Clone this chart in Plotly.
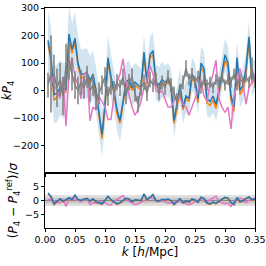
import plotly.graph_objects as go

k = [round(0.005 * i, 3) for i in range(1, 71)]

blue = [182,120,-15,-10,10, 0,5,205,150,190, 100,60,60,65,35, 60,0,-80,-160,-50,
        120,50,0,-70,-110, -40,30,40,10,30, 20,10,140,30,130, 145,30,20,40,30,
        40,20,-110,-50,20, -60,-20,-30,60,40, -30,100,80,-30,-40, -20,-50,0,60,130,
        100,-20,-60,120,0, 20,80,195,40,60]
orange = [170,105,-35,-25,0, -10,-5,190,135,175, 90,45,50,55,25, 45,-10,-95,-175,-65,
          105,40,-10,-85,-120, -50,20,30,0,20, 10,0,125,20,120, 130,20,10,30,20,
          30,10,-120,-65,5, -70,-30,-40,45,30, -45,85,65,-45,-55, -35,-65,-15,45,110,
          85,-35,-75,100,-15, 5,60,175,25,45]
band = [110,110,105,105,100, 100,100,100,95,95, 95,90,90,90,90, 85,85,85,80,80,
        80,80,75,75,75, 75,70,70,70,70, 70,70,65,65,65, 65,65,65,65,60,
        60,60,60,60,60, 60,60,60,60,60, 60,60,60,60,60, 60,60,60,60,60,
        60,60,60,60,60, 60,60,60,60,60]
pink = [30,60,20,0,-30, 50,-130,60,120,50, 20,-30,60,70,-110, -60,-70,-20,-40,-60,
        -105,-105,-20,30,60, 115,30,-20,-60,-90, -70,-40,10,40,90, 60,0,-10,0,-30,
        -60,-60,-40,-20,-30, -50,-60,-90,-60,-30, 0,40,-20,-40,20, 60,110,-30,-60,-80,
        -60,-140,-20,20,80, 30,-50,10,30,60]
gray = [20,60,60,10,40, -20,90,110,60,20, 0,30,10,50,0, 20,-30,-10,20,50,
        -20,20,0,30,10, 50,-20,30,50,-10, -50,10,30,-10,40, 20,40,-10,30,10,
        50,20,-10,-40,0, 30,80,40,60,30, 50,10,40,20,30, 10,40,30,50,20,
        40,30,60,20,40, 30,50,30,80,30]
gray_err = [45,140,70,70,60, 70,80,70,60,50, 50,45,40,40,40, 40,40,40,35,35,
            35,35,35,30,30, 30,30,30,30,30, 30,28,28,28,28, 25,25,25,25,25,
            25,25,25,30,25, 25,30,22,22,22, 22,22,22,20,20, 20,20,20,20,20,
            20,20,20,20,20, 20,20,20,40,20]

res_blue = [2.7,1.5,-1.3,-0.4,0.6, -0.3,0.2,1.0,0.3,2.0, 0.4,0.0,0.5,0.8,-0.2, 0.6,-0.5,-1.0,-1.2,0.1,
            1.6,0.3,-0.6,-1.2,-0.8, 0.1,0.8,0.6,-0.5,0.3, 0.2,0.0,2.4,0.3,1.2, 2.2,0.0,-0.2,0.4,0.3,
            0.5,0.0,-1.4,-0.5,0.7, -0.8,-0.2,-0.5,0.6,0.2, -0.6,1.2,0.8,-0.9,-1.2, -0.6,-1.0,-0.2,0.5,1.2,
            0.9,-0.7,-1.4,1.1,-0.4, -0.1,0.8,1.3,0.3,0.6]
res_orange = [2.5,1.3,-1.5,-0.6,0.4, -0.5,0.0,0.8,0.1,1.8, 0.2,-0.2,0.3,0.6,-0.4, 0.4,-0.7,-1.2,-1.4,-0.1,
              1.4,0.1,-0.8,-1.4,-1.0, -0.1,0.6,0.4,-0.7,0.1, 0.0,-0.2,2.2,0.1,1.0, 2.0,-0.2,-0.4,0.2,0.1,
              0.3,-0.2,-1.6,-0.7,0.5, -1.0,-0.4,-0.7,0.4,0.0, -0.8,1.0,0.6,-1.1,-1.4, -0.8,-1.2,-0.4,0.3,1.0,
              0.7,-0.9,-1.6,0.9,-0.6, -0.3,0.6,1.1,0.1,0.4]
res_pink = [0.2,0.6,-0.3,-0.8,-1.0, 0.4,-2.2,0.5,1.0,0.4, 0.1,-0.5,0.6,0.7,-1.4, -0.8,-1.0,-0.3,-0.6,-0.8,
            -1.5,-1.6,-0.3,0.4,0.8, 1.8,0.3,-0.4,-0.9,-1.5, -1.2,-0.6,0.1,0.5,1.1, 0.8,0.0,-0.2,0.0,-0.5,
            -0.9,-0.9,-0.6,-0.3,-0.5, -0.8,-1.0,-1.5,-1.0,-0.5, 0.0,0.5,-0.3,-0.6,0.3, 0.8,1.5,-0.5,-1.0,-1.2,
            -0.9,-2.2,-0.3,0.3,1.0, 0.4,-0.8,0.1,0.4,0.8]

C_BLUE = "#1f77b4"
C_ORANGE = "#ff7f0e"
C_PINK = "#e377c2"
C_GRAY = "#7f7f7f"

upper = [b + w for b, w in zip(blue, band)]
lower = [b - w for b, w in zip(blue, band)]

fig = go.Figure()
# top panel (x2, y2)
fig.add_trace(go.Scatter(x=k, y=upper, mode="lines", line=dict(width=0), showlegend=False,
                         xaxis="x2", yaxis="y2", hoverinfo="skip"))
fig.add_trace(go.Scatter(x=k, y=lower, mode="lines", line=dict(width=0), fill="tonexty",
                         fillcolor="rgba(31,119,180,0.2)", showlegend=False,
                         xaxis="x2", yaxis="y2", hoverinfo="skip"))
fig.add_trace(go.Scatter(x=k, y=orange, mode="lines", line=dict(color=C_ORANGE, width=1.5),
                         xaxis="x2", yaxis="y2", showlegend=False))
fig.add_trace(go.Scatter(x=k, y=blue, mode="lines", line=dict(color=C_BLUE, width=1.5),
                         xaxis="x2", yaxis="y2", showlegend=False))
fig.add_trace(go.Scatter(x=k, y=pink, mode="lines", line=dict(color=C_PINK, width=1.5),
                         xaxis="x2", yaxis="y2", showlegend=False))
fig.add_trace(go.Scatter(x=k, y=gray, mode="lines", line=dict(color=C_GRAY, width=1.5),
                         error_y=dict(type="data", array=gray_err, color=C_GRAY, thickness=1.5, width=0),
                         xaxis="x2", yaxis="y2", showlegend=False))

# bottom panel (x, y)
fig.add_trace(go.Scatter(x=k, y=res_orange, mode="lines", line=dict(color=C_ORANGE, width=1.5),
                         xaxis="x", yaxis="y", showlegend=False))
fig.add_trace(go.Scatter(x=k, y=res_pink, mode="lines", line=dict(color=C_PINK, width=1.5),
                         xaxis="x", yaxis="y", showlegend=False))
fig.add_trace(go.Scatter(x=k, y=res_blue, mode="lines", line=dict(color=C_BLUE, width=1.5),
                         xaxis="x", yaxis="y", showlegend=False))

shapes = [
    dict(type="rect", xref="x domain", yref="y", x0=0, x1=1, y0=-2, y1=2,
         fillcolor="rgba(128,128,128,0.25)", line=dict(width=0), layer="below"),
    dict(type="rect", xref="x domain", yref="y", x0=0, x1=1, y0=-1, y1=1,
         fillcolor="rgba(128,128,128,0.25)", line=dict(width=0), layer="below"),
    dict(type="line", xref="x domain", yref="y", x0=0, x1=1, y0=0, y1=0,
         line=dict(color="#888888", width=1), layer="below"),
]

font = dict(family="DejaVu Sans", size=9.5, color="black")
tfont = dict(family="DejaVu Sans", size=12, color="black")
axis_common = dict(showline=True, linecolor="black", linewidth=1, mirror=True,
                   ticks="outside", ticklen=3, tickwidth=1, tickcolor="black",
                   showgrid=False, zeroline=False, tickfont=font, automargin=False)

fig.update_layout(
    width=266, height=266,
    margin=dict(l=45, r=11, t=8, b=38),
    paper_bgcolor="white", plot_bgcolor="white",
    font=font,
    shapes=shapes,
    xaxis=dict(axis_common, range=[0, 0.35], tickvals=[0, 0.05, 0.1, 0.15, 0.2, 0.25, 0.3, 0.35],
               tickformat=".2f", anchor="y",
               title=dict(text="<i>k</i> [<i>h</i>/Mpc]", font=tfont, standoff=3)),
    yaxis=dict(axis_common, domain=[0, 0.25], range=[-10, 10], tickvals=[-5, 0, 5], anchor="x",
               title=dict(text="(<i>P</i><sub>4</sub> − <i>P</i><sub>4</sub><sup>ref</sup>)/<i>σ</i>",
                          font=tfont, standoff=4)),
    xaxis2=dict(axis_common, range=[0, 0.35], matches="x", anchor="y2", showticklabels=False,
                tickvals=[0, 0.05, 0.1, 0.15, 0.2, 0.25, 0.3, 0.35]),
    yaxis2=dict(axis_common, domain=[0.25, 1], range=[-300, 300],
                tickvals=[-200, -100, 0, 100, 200, 300], anchor="x2",
                title=dict(text="<i>kP</i><sub>4</sub>", font=tfont, standoff=4)),
)

fig.write_html("out.html", config={"displayModeBar": False},
               post_script="document.body.style.margin='0';")
